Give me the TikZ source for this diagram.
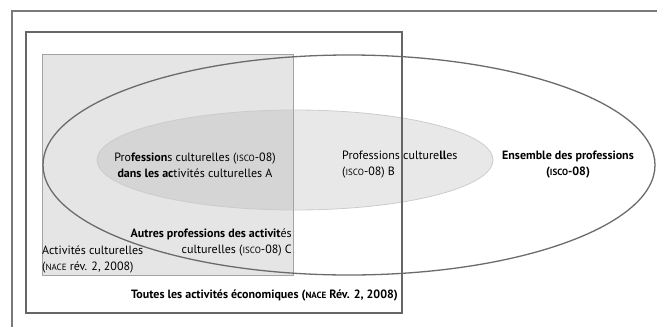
\documentclass[tikz,border=0pt]{standalone}
\usepackage{fontspec}
\setmainfont{PT Sans}
\newcommand{\smc}[1]{{\fontsize{9}{10}\selectfont #1}}
\begin{document}
\begin{tikzpicture}[x=1pt,y=-1pt,
  lbl/.style={inner sep=0pt, font=\fontsize{12}{16}\selectfont},
  framecol/.style={draw=black!52, line width=1.3pt},
  boxcol/.style={draw=black!60, line width=1.8pt}]
\useasboundingbox (0,0) rectangle (657,327);
% outer frame (only top and left visible)
\draw[framecol] (12,327) -- (12,11) -- (657,11);
% culture rectangle fill
\fill[black!10] (42,54) rectangle (293,275);
% inner ellipse
\fill[black!32, fill opacity=0.28] (295,160) ellipse [x radius=198, y radius=50];
\draw[black!20, line width=0.8pt] (295,160) ellipse [x radius=198, y radius=50];
% culture rectangle border
\draw[black!36, line width=1pt] (42,54) rectangle (293,275);
% big ellipse
\draw[black!58, line width=1.3pt] (349,165) ellipse [x radius=306, y radius=110];
% all activities box
\draw[boxcol] (26,32) rectangle (402,313);
% texts
\node[lbl, align=center] (a) at (195,165) {Pro\textbf{fession}s culturelles (\smc{ISCO}-08)\\\textbf{dans les ac}tivités culturelles A};
\node[lbl, align=left, anchor=west] (b) at (342,165) {Professions culture\textbf{ll}es\\(\smc{ISCO}-08) B};
\node[lbl, align=center] (e) at (568,165) {\textbf{Ensemble des professions}\\\textbf{(\smc{ISCO}-08)}};
\node[lbl, align=right, anchor=east] (c) at (292,242) {\textbf{Autres professions des activit}és\\culturelles (\smc{ISCO}-08) C};
\node[lbl, align=left, anchor=west] (d) at (42,259) {Activités culturelles\\(\smc{NACE} rév. 2, 2008)};
\node[lbl, anchor=east] (t) at (398,295) {\textbf{Toutes les activités économiques (\smc{NACE} Rév. 2, 2008)}};
\end{tikzpicture}
\end{document}
